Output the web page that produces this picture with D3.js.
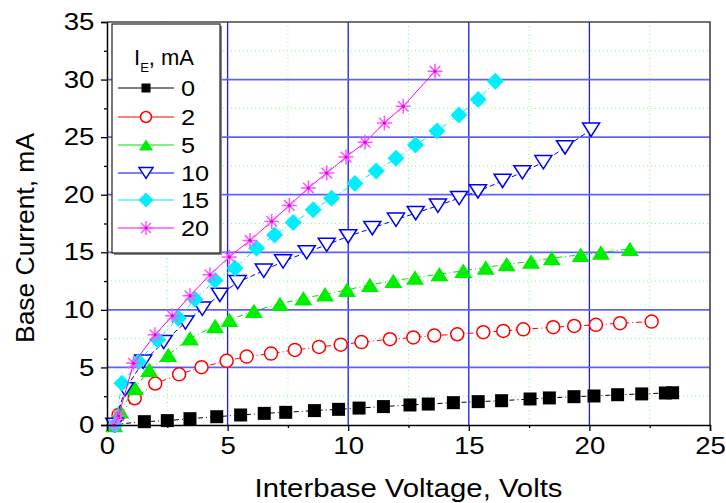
<!DOCTYPE html>
<html>
<head>
<meta charset="utf-8">
<script src="https://cdn.jsdelivr.net/npm/d3@7/dist/d3.min.js"></script>
<style>
  body { margin: 0; background: #fff; }
  svg { display: block; font-family: "Liberation Sans", Arial, sans-serif; }
</style>
</head>
<body>
<div id="chart"></div>
<script>
// I_E levels (legend) and measured points, one pair of arrays per curve
const seriesNames = ['0', '2', '5', '10', '15', '20'];

const vb0 = [0.3, 1.55, 2.5, 3.44, 4.55, 5.54, 6.52, 7.41, 8.6, 9.6, 10.45, 11.46, 12.56, 13.32, 14.36, 15.39, 16.36, 17.54, 18.34, 19.36, 20.19, 21.17, 22.17, 23.15, 23.45];
const ib0 = [0.05, 0.29, 0.38, 0.55, 0.72, 0.87, 1.01, 1.1, 1.25, 1.36, 1.47, 1.6, 1.74, 1.82, 1.94, 2.03, 2.11, 2.26, 2.35, 2.46, 2.52, 2.63, 2.7, 2.78, 2.8];

const vb2 = [0.3, 0.48, 1.15, 2.0, 2.99, 3.92, 4.96, 5.79, 6.8, 7.79, 8.79, 9.69, 10.55, 11.73, 12.7, 13.57, 14.52, 15.6, 16.43, 17.26, 18.5, 19.37, 20.27, 21.27, 22.58];
const ib2 = [0.0, 0.87, 2.32, 3.6, 4.4, 5.02, 5.57, 5.94, 6.2, 6.52, 6.78, 6.98, 7.2, 7.45, 7.6, 7.77, 7.88, 8.06, 8.17, 8.31, 8.49, 8.6, 8.7, 8.84, 8.98];

const vb5 = [0.3, 0.55, 1.16, 1.75, 2.54, 3.44, 4.48, 5.08, 6.09, 7.17, 8.14, 9.04, 9.95, 10.9, 11.87, 12.77, 13.78, 14.77, 15.7, 16.57, 17.58, 18.44, 19.64, 20.48, 21.68];
const ib5 = [0.0, 1.2, 3.2, 4.8, 6.09, 7.54, 8.6, 9.13, 9.91, 10.52, 11.01, 11.36, 11.74, 12.17, 12.52, 12.81, 13.1, 13.39, 13.68, 13.97, 14.2, 14.5, 14.78, 14.98, 15.3];

const vb10 = [0.3, 0.75, 1.5, 2.35, 3.25, 3.95, 4.68, 5.42, 6.5, 7.3, 8.28, 9.11, 10.0, 11.0, 11.98, 12.8, 13.72, 14.6, 15.38, 16.4, 17.22, 18.09, 18.99, 20.07];
const ib10 = [0.0, 3.1, 5.5, 7.2, 8.9, 10.1, 11.3, 12.4, 13.4, 14.2, 15.0, 15.65, 16.38, 17.1, 17.83, 18.4, 19.05, 19.71, 20.29, 21.2, 21.95, 22.82, 24.11, 25.65];

const vb15 = [0.34, 0.62, 1.31, 2.1, 2.96, 3.65, 4.48, 5.31, 6.2, 6.95, 7.72, 8.55, 9.31, 10.28, 11.16, 11.98, 12.79, 13.68, 14.59, 15.39, 16.1];
const ib15 = [0.0, 3.62, 5.5, 7.4, 9.28, 10.93, 12.55, 13.62, 15.36, 16.5, 17.59, 18.7, 19.7, 20.98, 22.06, 23.16, 24.32, 25.53, 26.93, 28.26, 29.85];

const vb20 = [0.3, 0.48, 1.1, 1.99, 2.71, 3.44, 4.27, 5.07, 5.93, 6.83, 7.56, 8.35, 9.11, 9.91, 10.7, 11.5, 12.28, 13.6];
const ib20 = [0.0, 0.8, 5.36, 7.83, 9.48, 11.22, 13.04, 14.6, 16.03, 17.68, 19.07, 20.58, 21.88, 23.27, 24.55, 26.23, 27.68, 30.72];

const xTicks = [0, 5, 10, 15, 20, 25];
const yTicks = [0, 5, 10, 15, 20, 25, 30, 35];
const xMinor = [2.5, 7.5, 12.5, 17.5, 22.5];
const yMinor = [2.5, 7.5, 12.5, 17.5, 22.5, 27.5, 32.5];

const W = 726, H = 503;
const pL = 107, pR = 710, pT = 22, pB = 425;

const x = d3.scaleLinear().domain([0, 25]).range([pL, pR]);
const y = d3.scaleLinear().domain([0, 35]).range([pB, pT]);

const svg = d3.select('#chart').append('svg')
  .attr('width', W).attr('height', H);

// minor grid (dotted green)
const grid = svg.append('g');
grid.selectAll('.mx').data(xMinor).enter().append('line')
  .attr('x1', d => x(d)).attr('x2', d => x(d)).attr('y1', pT).attr('y2', pB)
  .attr('stroke', '#7dff7d').attr('stroke-width', 1).attr('stroke-dasharray', '1,3');
grid.selectAll('.my').data(yMinor).enter().append('line')
  .attr('y1', d => y(d)).attr('y2', d => y(d)).attr('x1', pL).attr('x2', pR)
  .attr('stroke', '#7dff7d').attr('stroke-width', 1).attr('stroke-dasharray', '1,3');
// major grid (solid blue)
grid.selectAll('.gx').data(xTicks.slice(1, -1)).enter().append('line')
  .attr('x1', d => x(d)).attr('x2', d => x(d)).attr('y1', pT).attr('y2', pB)
  .attr('stroke', '#1a1af5').attr('stroke-width', 1.3);
grid.selectAll('.gy').data(yTicks.slice(1, -1)).enter().append('line')
  .attr('y1', d => y(d)).attr('y2', d => y(d)).attr('x1', pL).attr('x2', pR)
  .attr('stroke', '#6060ff').attr('stroke-width', 1.8);

// frame top/right
svg.append('path')
  .attr('d', `M${pL},${pT}H${pR}V${pB}`)
  .attr('fill', 'none').attr('stroke', '#444').attr('stroke-width', 1.6);

// marker shapes
const tri = (w, h) => `M0,${-h / 2}L${w / 2},${h / 2}L${-w / 2},${h / 2}Z`;
const triDown = (w, h) => `M${-w / 2},${-h / 2}L${w / 2},${-h / 2}L0,${h / 2}Z`;
const diamond = r => `M0,${-r}L${r},0L0,${r}L${-r},0Z`;
const star = r => {
  const a = r * 0.7071;
  return `M0,${-r}V${r}M${-r},0H${r}M${-a},${-a}L${a},${a}M${-a},${a}L${a},${-a}`;
};

const series = [
  { vx: vb0, vy: ib0, color: '#000', dash: '5,3,1,3', marker: s => `M${-s / 2},${-s / 2}h${s}v${s}h${-s}Z`, size: 13, fill: '#000', stroke: 'none' },
  { vx: vb2, vy: ib2, color: '#ff0000', dash: '6,3,1,3', marker: s => d3.symbol(d3.symbolCircle, Math.PI * s * s / 4)(), size: 13, fill: '#fff', stroke: '#ff0000' },
  { vx: vb5, vy: ib5, color: '#00e000', dash: '6,3,1,3', marker: s => tri(s, s * 0.8), size: 18, fill: '#00ee00', stroke: 'none' },
  { vx: vb10, vy: ib10, color: '#0000ff', dash: '5,3', marker: s => triDown(s, s * 0.78), size: 17, fill: '#fff', stroke: '#0000ee' },
  { vx: vb15, vy: ib15, color: '#00e5ff', dash: '6,3,1,3', marker: s => diamond(s / 2), size: 17, fill: '#00eeff', stroke: 'none' },
  { vx: vb20, vy: ib20, color: '#ff00ff', dash: null, marker: s => star(s / 2), size: 15, fill: 'none', stroke: '#ff55ff' }
];

const line = d3.line().x(d => x(d[0])).y(d => y(d[1]));
const plot = svg.append('g');

series.forEach((s, i) => {
  const pts = s.vx.map((v, k) => [v, s.vy[k]]);
  plot.append('path')
    .datum(pts)
    .attr('d', line)
    .attr('fill', 'none')
    .attr('stroke', s.color)
    .attr('stroke-width', 1)
    .attr('stroke-dasharray', s.dash);
  const g = plot.append('g');
  g.selectAll('path').data(pts).enter().append('path')
    .attr('transform', d => `translate(${x(d[0])},${y(d[1])})`)
    .attr('d', s.marker(s.size))
    .attr('fill', s.fill)
    .attr('stroke', s.stroke)
    .attr('stroke-width', 1.5);
  if (i === 5) {
    g.selectAll('circle').data(pts).enter().append('circle')
      .attr('cx', d => x(d[0])).attr('cy', d => y(d[1])).attr('r', 1.6)
      .attr('fill', '#e000e0');
  }
});

// axes
const tickFont = g => g.selectAll('text')
  .attr('font-size', 24).attr('fill', '#000')
  .attr('font-family', '"Liberation Sans", Arial, sans-serif');

const xAxis = svg.append('g').attr('transform', `translate(0,${pB})`)
  .call(d3.axisBottom(x).tickValues(xTicks).tickSize(6).tickPadding(6).tickFormat(d3.format('d')))
  .call(tickFont);
xAxis.selectAll('text').attr('transform', 'scale(1.15,1)');
svg.append('g').attr('transform', `translate(0,${pB})`)
  .call(d3.axisBottom(x).tickValues(xMinor).tickSize(3).tickFormat(''))
  .select('.domain').remove();

const yAxis = svg.append('g').attr('transform', `translate(${pL},0)`)
  .call(d3.axisLeft(y).tickValues(yTicks).tickSize(6).tickPadding(5).tickFormat(d3.format('d')))
  .call(tickFont);
yAxis.selectAll('text').attr('transform', 'scale(1.15,1)');
svg.append('g').attr('transform', `translate(${pL},0)`)
  .call(d3.axisLeft(y).tickValues(yMinor).tickSize(3).tickFormat(''))
  .select('.domain').remove();

svg.selectAll('.domain').attr('stroke', '#000').attr('stroke-width', 1.5);
svg.selectAll('.tick line').attr('stroke', '#000').attr('stroke-width', 1.3);

// axis titles
svg.append('text')
  .attr('x', (pL + pR) / 2).attr('y', 497)
  .attr('text-anchor', 'middle').attr('font-size', 26)
  .attr('textLength', 308).attr('lengthAdjust', 'spacingAndGlyphs')
  .text('Interbase Voltage, Volts');
svg.append('text')
  .attr('transform', 'translate(34,238) rotate(-90)')
  .attr('text-anchor', 'middle').attr('font-size', 26)
  .attr('textLength', 210).attr('lengthAdjust', 'spacingAndGlyphs')
  .text('Base Current, mA');

// legend
const lg = svg.append('g');
lg.append('rect').attr('x', 114).attr('y', 26).attr('width', 108).attr('height', 229).attr('fill', '#888');
lg.append('rect').attr('x', 112).attr('y', 24).attr('width', 108).attr('height', 229)
  .attr('fill', '#fff').attr('stroke', '#222').attr('stroke-width', 1.2);

const title = lg.append('text').attr('x', 134).attr('y', 65).attr('font-size', 22);
title.append('tspan').text('I');
title.append('tspan').attr('font-size', 13).attr('dy', 7).text('E');
title.append('tspan').attr('dy', -7).text(', mA');

const legendY = [88, 117, 145, 173, 200, 228];
const legendMarker = [9, 11, 14, 14, 15, 14];
series.forEach((s, i) => {
  const ly = legendY[i];
  lg.append('line').attr('x1', 118).attr('x2', 174).attr('y1', ly).attr('y2', ly)
    .attr('stroke', s.color).attr('stroke-width', 1);
  lg.append('path')
    .attr('transform', `translate(146,${ly})`)
    .attr('d', s.marker(legendMarker[i]))
    .attr('fill', s.fill).attr('stroke', s.stroke).attr('stroke-width', 1.5);
  if (i === 5) lg.append('circle').attr('cx', 146).attr('cy', ly).attr('r', 1.5).attr('fill', '#e000e0');
  lg.append('text').attr('x', 181).attr('y', ly + 8).attr('font-size', 22)
    .attr('transform', `translate(${-181 * 0.15},0) scale(1.15,1)`)
    .text(seriesNames[i]);
});
</script>
</body>
</html>
